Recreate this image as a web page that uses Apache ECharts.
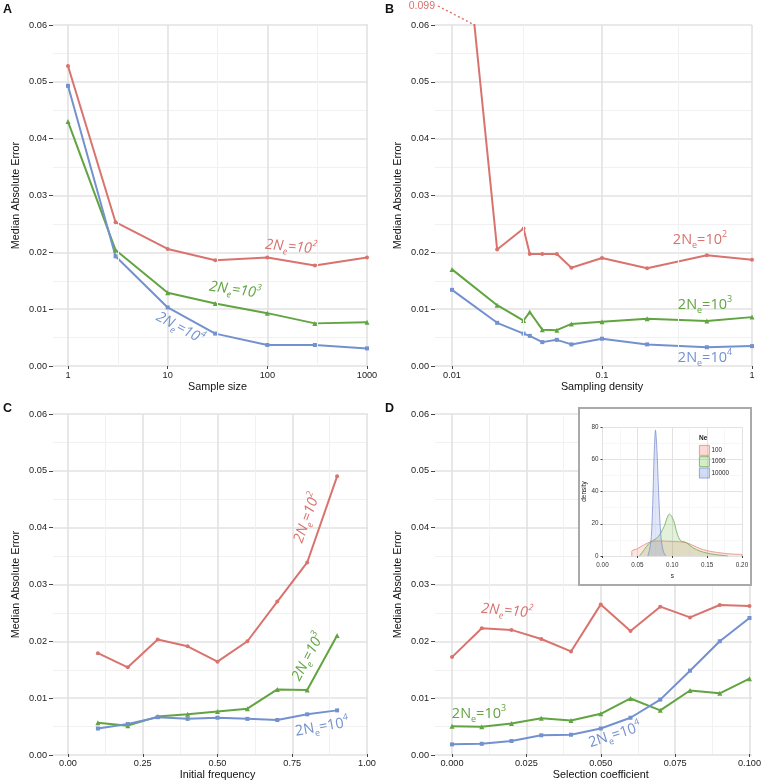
<!DOCTYPE html>
<html><head><meta charset="utf-8">
<script src="https://cdn.jsdelivr.net/npm/echarts@6/dist/echarts.min.js"></script>
<style>html,body{margin:0;padding:0;background:#fff}#c{width:764px;height:782px}</style>
</head><body><div id="c"></div><script>
// ---------- DATA ----------
const sampleSize = [1, 3, 10, 30, 100, 300, 1000];
const A_red   = [0.0528, 0.0253, 0.0206, 0.0186, 0.0191, 0.0177, 0.0191];
const A_green = [0.0430, 0.0204, 0.0129, 0.0110, 0.0093, 0.0075, 0.0077];
const A_blue  = [0.0493, 0.0193, 0.0103, 0.0057, 0.0037, 0.0037, 0.0031];

const samplingDensity = [0.01, 0.02, 0.03, 0.033, 0.04, 0.05, 0.0625, 0.1, 0.2, 0.5, 1];
const B_red   = [0.099, 0.0205, 0.0242, 0.0197, 0.0197, 0.0197, 0.0173, 0.0190, 0.0172, 0.0195, 0.0187];
const B_green = [0.0170, 0.0107, 0.0080, 0.0095, 0.0064, 0.0063, 0.0074, 0.0078, 0.0083, 0.0079, 0.0086];
const B_blue  = [0.0134, 0.0076, 0.0057, 0.0053, 0.0042, 0.0046, 0.0038, 0.0048, 0.0038, 0.0033, 0.0035];

const initialFrequency = [0.1, 0.2, 0.3, 0.4, 0.5, 0.6, 0.7, 0.8, 0.9];
const C_red   = [0.0178, 0.0153, 0.0202, 0.0190, 0.0163, 0.0199, 0.0269, 0.0338, 0.0490];
const C_green = [0.0055, 0.0050, 0.0066, 0.0070, 0.0075, 0.0080, 0.0114, 0.0113, 0.0209];
const C_blue  = [0.0045, 0.0053, 0.0065, 0.0062, 0.0064, 0.0062, 0.0060, 0.0070, 0.0077];

const selectionCoefficient = [0, 0.01, 0.02, 0.03, 0.04, 0.05, 0.06, 0.07, 0.08, 0.09, 0.1];
const D_red   = [0.0171, 0.0222, 0.0219, 0.0203, 0.0181, 0.0264, 0.0217, 0.0260, 0.0241, 0.0263, 0.0261];
const D_green = [0.0049, 0.0048, 0.0054, 0.0063, 0.0059, 0.0071, 0.0098, 0.0077, 0.0112, 0.0107, 0.0133];
const D_blue  = [0.0017, 0.0018, 0.0023, 0.0033, 0.0034, 0.0045, 0.0064, 0.0096, 0.0147, 0.0199, 0.0240];

// inset: density of s
const inset_s_100    = [0.042, 0.042, 0.05, 0.06, 0.07, 0.08, 0.09, 0.10, 0.11, 0.12, 0.13, 0.14, 0.15, 0.16, 0.17, 0.18, 0.19, 0.20, 0.20];
const inset_d_100    = [0, 3, 4.5, 7, 9, 9.3, 9.2, 9, 8.8, 8.3, 6.5, 4.6, 3.3, 2.5, 1.9, 1.4, 1.1, 0.9, 0];
const inset_s_1000   = [0.053, 0.06, 0.066, 0.072, 0.08, 0.088, 0.096, 0.102, 0.107, 0.112, 0.12, 0.13, 0.14, 0.15, 0.16, 0.17, 0.18];
const inset_d_1000   = [0, 4, 7.5, 9.5, 12, 18, 26, 22, 14, 9.5, 8.3, 5, 3, 1.8, 1, 0.5, 0];
const inset_s_10000  = [0.065, 0.068, 0.070, 0.072, 0.074, 0.076, 0.078, 0.080, 0.082, 0.084, 0.086, 0.088, 0.091];
const inset_d_10000  = [0, 5, 12, 32, 62, 78, 66, 44, 24, 11, 5, 2, 0];
const insetGroups = ['100', '1000', '10000'];

const yTicks = [0, 0.01, 0.02, 0.03, 0.04, 0.05, 0.06];

// ---------- STYLE ----------
const FONT = 'Liberation Sans, Arial, sans-serif';
const LFONT = 'Open Sans, sans-serif';
const RED = '#d9736e', GREEN = '#62a442', BLUE = '#7391cf';
const GMAJ = '#e2e2e2', GMIN = '#f1f1f1';

const chart = echarts.init(document.getElementById('c'), null, {renderer: 'canvas'});
const zip = (xs, ys) => xs.map((x, i) => [x, ys[i]]);

const panels = [
  {x: sampleSize, r: A_red, g: A_green, b: A_blue, log: true, min: 1, max: 1000, name: 'Sample size',
   minor: [Math.sqrt(10), Math.sqrt(1000), Math.sqrt(100000)], dBox: [68, 25, 299, 341], yBox: [53, 25, 315, 341]},
  {x: samplingDensity, r: B_red, g: B_green, b: B_blue, log: true, min: 0.01, max: 1, name: 'Sampling density',
   minor: [Math.pow(10, -1.5), Math.pow(10, -0.5)], dBox: [452, 25, 300, 341], yBox: [435, 25, 317, 341]},
  {x: initialFrequency, r: C_red, g: C_green, b: C_blue, log: false, min: 0, max: 1, interval: 0.25, digits: 2, name: 'Initial frequency',
   dBox: [68, 414, 299, 341], yBox: [53, 414, 315, 341]},
  {x: selectionCoefficient, r: D_red, g: D_green, b: D_blue, log: false, min: 0, max: 0.1, interval: 0.025, digits: 3, name: 'Selection coefficient',
   dBox: [452, 414, 300, 341], yBox: [435, 414, 317, 341]}
];

const grid = [], xAxis = [], yAxis = [], series = [];
panels.forEach((p, i) => {
  const gd = grid.length;
  grid.push({left: p.dBox[0], top: p.dBox[1], width: p.dBox[2], height: p.dBox[3]});
  const gy = grid.length;
  grid.push({left: p.yBox[0], top: p.yBox[1], width: p.yBox[2], height: p.yBox[3]});
  const xa = {
    gridIndex: gd, min: p.min, max: p.max,
    axisLine: {show: false},
    axisTick: {show: true, length: 3, lineStyle: {color: '#444'}},
    axisLabel: {fontSize: 9.2, color: '#222', margin: 5, fontFamily: FONT,
      formatter: p.log ? (v => String(+Number(v).toPrecision(6))) : (v => Number(v).toFixed(p.digits))},
    splitLine: {show: true, lineStyle: {color: GMAJ, width: 1.6}},
    name: p.name, nameLocation: 'middle', nameGap: 16,
    nameTextStyle: {fontSize: 10.8, color: '#111', fontFamily: FONT}
  };
  if (p.log) { xa.type = 'log'; xa.logBase = 10; }
  else {
    xa.type = 'value'; xa.interval = p.interval;
    xa.minorTick = {show: false, splitNumber: 2};
    xa.minorSplitLine = {show: true, lineStyle: {color: GMIN, width: 1}};
  }
  xAxis.push(xa);
  xAxis.push({gridIndex: gy, type: 'value', show: false, min: 0, max: 1});
  yAxis.push({gridIndex: gd, type: 'value', show: false, min: 0, max: 0.06, interval: 0.01});
  yAxis.push({
    gridIndex: gy, type: 'value', min: 0, max: 0.06, interval: 0.01,
    axisLine: {show: false},
    axisTick: {show: true, length: 4, lineStyle: {color: '#444'}},
    axisLabel: {fontSize: 9.2, color: '#222', margin: 6, fontFamily: FONT, formatter: v => Number(v).toFixed(2),
      customValues: yTicks},
    splitLine: {show: true, lineStyle: {color: GMAJ, width: 1.6}},
    minorTick: {show: false, splitNumber: 2},
    minorSplitLine: {show: true, lineStyle: {color: GMIN, width: 1}},
    name: 'Median Absolute Error', nameLocation: 'middle', nameGap: 31, nameRotate: 90,
    nameTextStyle: {fontSize: 10.8, color: '#111', fontFamily: FONT}
  });
  if (p.log) {
    series.push({type: 'line', xAxisIndex: gd, yAxisIndex: gd, data: [], z: 0, silent: true,
      markLine: {silent: true, symbol: 'none', label: {show: false}, animation: false,
        lineStyle: {color: GMIN, width: 1, type: 'solid'},
        data: p.minor.map(v => ({xAxis: v}))}});
  }
  const mk = (nm, ys, color, symbol, size) => ({
    type: 'line', name: 'p' + i + nm, xAxisIndex: gd, yAxisIndex: gd, data: zip(p.x, ys),
    symbol, symbolSize: size, showSymbol: true, clip: true, z: 3,
    lineStyle: {color, width: 2}, itemStyle: {color}, animation: false
  });
  series.push(mk('r', p.r, RED, 'circle', 4));
  series.push(mk('g', p.g, GREEN, 'triangle', 5));
  series.push(mk('b', p.b, BLUE, 'rect', 4));
});

// inset
const gi = grid.length;
grid.push({left: 602.5, top: 427, width: 139.5, height: 129, z: 10});
xAxis.push({gridIndex: gi, type: 'value', min: 0, max: 0.2, interval: 0.05, z: 10,
  axisLine: {show: false}, axisTick: {show: true, length: 2, lineStyle: {color: '#444'}},
  axisLabel: {fontSize: 6.3, color: '#333', margin: 6, fontFamily: FONT, formatter: v => Number(v).toFixed(2)},
  splitLine: {show: true, lineStyle: {color: GMAJ, width: 1}},
  minorTick: {show: false, splitNumber: 2}, minorSplitLine: {show: true, lineStyle: {color: GMIN, width: 0.6}},
  name: 's', nameLocation: 'middle', nameGap: 17, nameTextStyle: {fontSize: 6.5, color: '#222', fontFamily: FONT}});
yAxis.push({gridIndex: gi, type: 'value', min: 0, max: 80, interval: 20, z: 10,
  axisLine: {show: false}, axisTick: {show: true, length: 2, lineStyle: {color: '#444'}},
  axisLabel: {fontSize: 6.3, color: '#333', margin: 4, fontFamily: FONT},
  splitLine: {show: true, lineStyle: {color: GMAJ, width: 1}},
  minorTick: {show: false, splitNumber: 2}, minorSplitLine: {show: true, lineStyle: {color: GMIN, width: 0.6}},
  name: 'density', nameLocation: 'middle', nameGap: 13, nameRotate: 90,
  nameTextStyle: {fontSize: 6.5, color: '#222', fontFamily: FONT}});
const insetStyle = [
  {line: '#e08a82', fill: 'rgba(244,130,120,0.30)'},
  {line: '#6cab52', fill: 'rgba(120,190,80,0.30)'},
  {line: '#7f93d2', fill: 'rgba(120,145,225,0.32)'}
];
[[inset_s_100, inset_d_100], [inset_s_1000, inset_d_1000], [inset_s_10000, inset_d_10000]].forEach((d, k) => {
  series.push({type: 'line', name: insetGroups[k], xAxisIndex: gi, yAxisIndex: gi, data: zip(d[0], d[1]),
    symbol: 'none', smooth: 0.3, z: 12, animation: false,
    lineStyle: {color: insetStyle[k].line, width: 0.8}, itemStyle: {color: insetStyle[k].line},
    areaStyle: {color: insetStyle[k].fill, origin: 'start'}});
});

const option = {
  animation: false,
  backgroundColor: '#fff',
  grid, xAxis, yAxis, series,
  legend: {
    data: insetGroups.map((n, k) => ({name: n, icon: 'rect',
      itemStyle: {color: insetStyle[k].fill, borderColor: insetStyle[k].line, borderWidth: 0.8}})),
    orient: 'vertical', left: 699, top: 445, itemWidth: 10, itemHeight: 10, itemGap: 0.5, z: 15,
    selectedMode: false, padding: 0,
    textStyle: {fontSize: 6.3, color: '#222', fontFamily: FONT, padding: [0, 0, 0, -3]}
  }
};
chart.setOption(option);

// ---------- annotations ----------
function neLabel(x, y, exp, color, rotDeg, italic) {
  const fs = italic ? 'italic' : 'normal';
  return {type: 'text', x, y, rotation: rotDeg * Math.PI / 180, z: 20,
    style: {text: '{n|2N}{s|e}{n|=10}{p|' + exp + '}', fill: color, align: 'center', verticalAlign: 'middle',
      rich: {
        n: {fontSize: 14.5, fontFamily: LFONT, fontStyle: fs, fill: color, lineHeight: 20},
        s: {fontSize: 9, fontFamily: LFONT, fontStyle: fs, fill: color, lineHeight: 11, verticalAlign: 'bottom'},
        p: {fontSize: 9, fontFamily: LFONT, fontStyle: fs, fill: color, lineHeight: 11, verticalAlign: 'top'}
      }}};
}
function letter(t, x, y) {
  return {type: 'text', x, y, z: 20, style: {text: t, fontSize: 12.5, fontWeight: 'bold', fontFamily: FONT, fill: '#111'}};
}
// crossing point of panel B red line with the top of the plot (y = 0.06)
const yTop = 0.06;
const t = (B_red[0] - yTop) / (B_red[0] - B_red[1]);
const lx = Math.log10(samplingDensity[0]) + t * (Math.log10(samplingDensity[1]) - Math.log10(samplingDensity[0]));
const cross = chart.convertToPixel({xAxisIndex: 2, yAxisIndex: 2}, [Math.pow(10, lx), yTop]);

const graphic = [
  {type: 'rect', shape: {x: 579, y: 408, width: 172, height: 177}, z: 5,
    style: {fill: '#fff', stroke: '#a9a9a9', lineWidth: 2}},
  {type: 'text', x: 699, y: 435, z: 20, style: {text: 'Ne', fontSize: 6.5, fontWeight: 'bold', fontFamily: FONT, fill: '#222'}},
  letter('A', 3, 3), letter('B', 385, 3), letter('C', 3, 402), letter('D', 385, 402),
  {type: 'text', x: 435, y: 6, z: 20, style: {text: B_red[0].toFixed(3), fill: RED, fontSize: 10.5, fontFamily: FONT,
    align: 'right', verticalAlign: 'middle'}},
  {type: 'line', z: 20, shape: {x1: 438, y1: 6, x2: cross[0], y2: cross[1]},
    style: {stroke: RED, lineWidth: 1.4, lineDash: [2, 2.5]}},
  neLabel(291, 247, 2, RED, -5, true),
  neLabel(235, 290, 3, GREEN, -8, true),
  neLabel(180, 328, 4, BLUE, -28, true),
  neLabel(700, 240, 2, RED, 0, false),
  neLabel(705, 305, 3, GREEN, 0, false),
  neLabel(705, 358, 4, BLUE, 0, false),
  neLabel(307, 518, 2, RED, 70, true),
  neLabel(308, 657, 3, GREEN, 62, true),
  neLabel(322, 727, 4, BLUE, 10, false),
  neLabel(507, 611, 2, RED, -5, true),
  neLabel(479, 714, 3, GREEN, 0, false),
  neLabel(615, 735, 4, BLUE, 18, false)
];
chart.setOption({graphic});
</script></body></html>
